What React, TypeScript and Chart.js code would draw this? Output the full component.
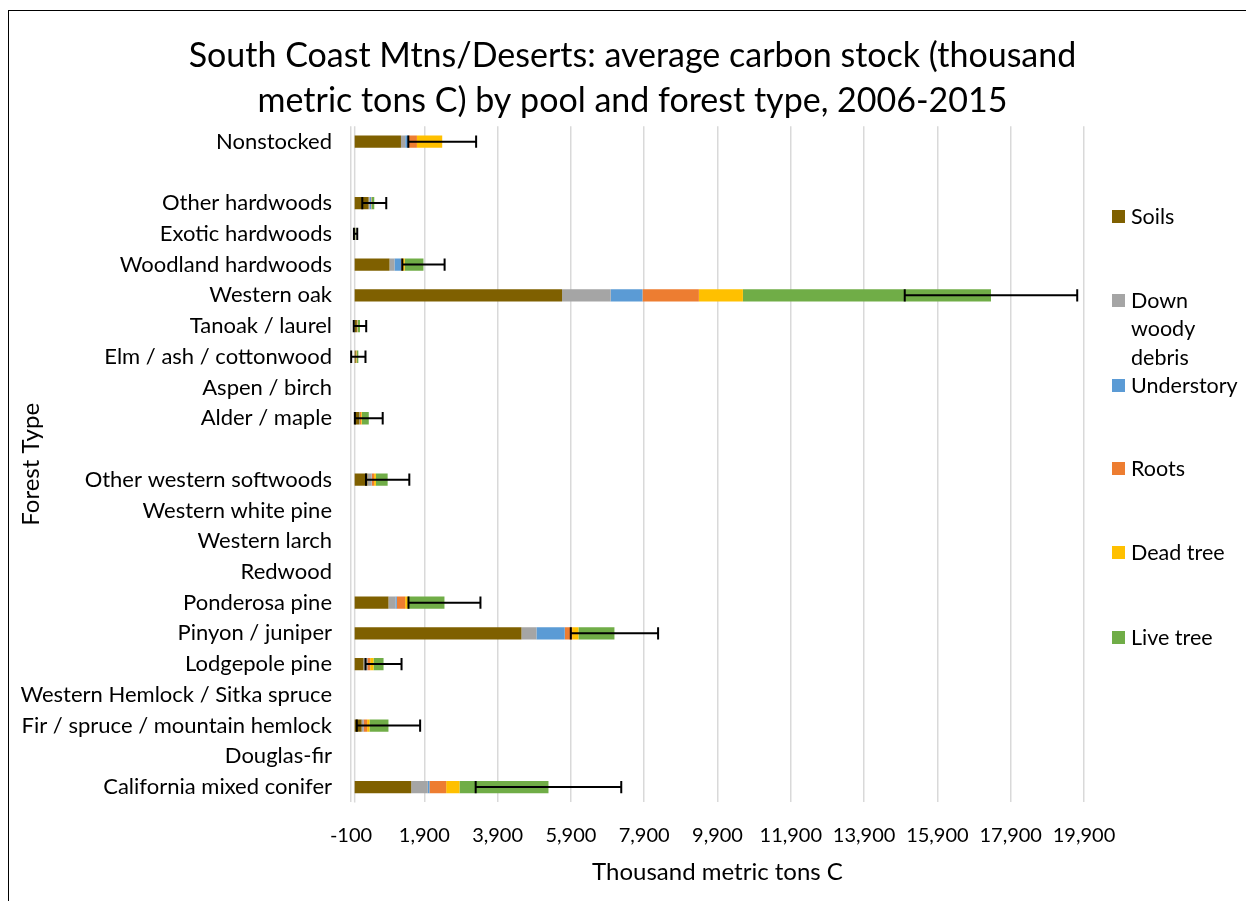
import React, { useEffect, useRef } from "react";
import { Chart, registerables } from "chart.js";
Chart.register(...registerables);

const categories = [
  "Nonstocked", "", "Other hardwoods", "Exotic hardwoods", "Woodland hardwoods", "Western oak",
  "Tanoak / laurel", "Elm / ash / cottonwood", "Aspen / birch", "Alder / maple", "",
  "Other western softwoods", "Western white pine", "Western larch", "Redwood", "Ponderosa pine",
  "Pinyon / juniper", "Lodgepole pine", "Western Hemlock / Sitka spruce",
  "Fir / spruce / mountain hemlock", "Douglas-fir", "California mixed conifer",
];

const soils = [1263, 0, 380, 15, 950, 5659, 60, 30, 0, 130, 0, 350, 0, 0, 0, 922, 4551, 240, 0, 190, 0, 1542];
const downWoodyDebris = [117, 0, 25, 0, 136, 1326, 5, 5, 0, 10, 0, 110, 0, 0, 0, 191, 409, 90, 0, 40, 0, 453];
const understory = [82, 0, 45, 0, 183, 868, 5, 0, 0, 5, 0, 10, 0, 0, 0, 36, 772, 15, 0, 10, 0, 46];
const roots = [237, 0, 10, 0, 27, 1539, 10, 10, 0, 30, 0, 60, 0, 0, 0, 229, 202, 80, 0, 100, 0, 456];
const deadTree = [690, 0, 5, 0, 68, 1201, 10, 10, 0, 20, 0, 50, 0, 0, 0, 71, 172, 90, 0, 65, 0, 363];
const liveTree = [0, 0, 70, 10, 513, 6769, 55, 45, 0, 190, 0, 320, 0, 0, 0, 1001, 982, 273, 0, 517, 0, 2428];
const errorMargins = [925, 0, 327, 45, 577, 2353, 170, 195, 0, 380, 0, 591, 0, 0, 0, 982, 1191, 491, 0, 864, 0, 1986];

const seriesNames = ["Soils", "Down woody debris", "Understory", "Roots", "Dead tree", "Live tree"];
const seriesValues = [soils, downWoodyDebris, understory, roots, deadTree, liveTree];
const seriesColors = ["#7F6000", "#A5A5A5", "#5B9BD5", "#ED7D31", "#FFC000", "#70AD47"];

const xTickValues = [-100, 1900, 3900, 5900, 7900, 9900, 11900, 13900, 15900, 17900, 19900];

const titleLines = [
  "South Coast Mtns/Deserts: average carbon stock (thousand",
  "metric tons C) by pool and forest type, 2006-2015",
];
const xAxisTitle = "Thousand metric tons C";
const yAxisTitle = "Forest Type";

const FONT = "Lato";

const errorBarPlugin = {
  id: "errorBars",
  afterDatasetsDraw(chart: any) {
    const { ctx, scales } = chart;
    const x = scales.x;
    const y = scales.y;
    const meta = chart.getDatasetMeta(0);
    ctx.save();
    ctx.strokeStyle = "#000";
    ctx.lineWidth = 2;
    categories.forEach((_, i) => {
      const err = errorMargins[i];
      if (!err) return;
      const total = seriesValues.reduce((s, arr) => s + arr[i], 0);
      const yc = y.getPixelForValue(i);
      const x1 = x.getPixelForValue(total - err);
      const x2 = x.getPixelForValue(total + err);
      const h = (meta.data[i] && meta.data[i].height ? meta.data[i].height : 12) / 2;
      ctx.beginPath();
      ctx.moveTo(x1, yc);
      ctx.lineTo(x2, yc);
      ctx.moveTo(x1, yc - h);
      ctx.lineTo(x1, yc + h);
      ctx.moveTo(x2, yc - h);
      ctx.lineTo(x2, yc + h);
      ctx.stroke();
    });
    ctx.restore();
  },
};

const zeroLinePlugin = {
  id: "zeroLine",
  beforeDatasetsDraw(chart: any) {
    const { ctx, chartArea, scales } = chart;
    const x0 = scales.x.getPixelForValue(0);
    ctx.save();
    ctx.strokeStyle = "#d9d9d9";
    ctx.lineWidth = 1.5;
    ctx.beginPath();
    ctx.moveTo(x0, chartArea.top);
    ctx.lineTo(x0, chartArea.bottom);
    ctx.stroke();
    ctx.restore();
  },
};

export default function App() {
  const canvasRef = useRef<HTMLCanvasElement | null>(null);

  useEffect(() => {
    const canvas = canvasRef.current;
    if (!canvas) return;
    const chart = new Chart(canvas, {
      type: "bar",
      data: {
        labels: categories,
        datasets: seriesNames.map((name, k) => ({
          label: name,
          data: seriesValues[k],
          backgroundColor: seriesColors[k],
          borderWidth: 0,
          barPercentage: 0.4,
          categoryPercentage: 1,
        })),
      },
      options: {
        indexAxis: "y",
        animation: false,
        responsive: false,
        maintainAspectRatio: false,
        layout: { padding: { left: 19, right: 0, top: 0, bottom: 0 } },
        plugins: {
          legend: { display: false },
          tooltip: { enabled: false },
          title: {
            display: true,
            text: titleLines,
            color: "#000",
            font: { family: FONT, size: 34, weight: "normal", lineHeight: 1.32 },
            padding: { top: 34, bottom: 2.5 },
          },
        },
        scales: {
          x: {
            type: "linear",
            stacked: true,
            min: -100,
            max: 19900,
            afterBuildTicks(scale: any) {
              scale.ticks = xTickValues.map((v) => ({ value: v }));
            },
            afterFit(scale: any) {
              scale.height = 98.6;
            },
            ticks: {
              autoSkip: false,
              maxRotation: 0,
              padding: 21.4,
              color: "#000",
              font: { family: FONT, size: 20, lineHeight: 1.2 },
              callback: (v: any) => Number(v).toLocaleString("en-US"),
            },
            grid: { color: "#d9d9d9", lineWidth: 1.5, drawTicks: false },
            border: { display: false },
            title: {
              display: true,
              text: xAxisTitle,
              color: "#000",
              font: { family: FONT, size: 24, lineHeight: 1 },
              padding: { top: 0, bottom: 17 },
            },
          },
          y: {
            type: "category",
            stacked: true,
            afterFit(scale: any) {
              scale.width = 332;
            },
            ticks: {
              autoSkip: false,
              padding: 19,
              color: "#000",
              font: { family: FONT, size: 22 },
            },
            grid: { display: false, drawTicks: false },
            border: { display: false },
            title: {
              display: true,
              text: yAxisTitle,
              color: "#000",
              font: { family: FONT, size: 24, lineHeight: 1 },
              padding: { top: 0, bottom: 0 },
            },
          },
          yRight: {
            type: "linear",
            position: "right",
            display: true,
            afterFit(scale: any) {
              scale.width = 162;
            },
            grid: { display: false, drawTicks: false },
            ticks: { display: false },
            border: { display: false },
          },
        },
      },
      plugins: [zeroLinePlugin, errorBarPlugin],
    });
    return () => chart.destroy();
  }, []);

  const legendCenters = [216, 300, 385, 468.5, 552.5, 637.5];
  const lh = 28.5;

  return (
    <div style={{ position: "fixed", left: 0, top: 0, width: 1246, height: 901, background: "#fff" }}>
      <canvas ref={canvasRef} width={1246} height={901} style={{ position: "absolute", left: 0, top: 0, width: 1246, height: 901 }} />
      <div style={{ position: "absolute", left: 8, top: 10, width: 1300, height: 1000, borderLeft: "1.5px solid #000", borderTop: "1.5px solid #000", pointerEvents: "none" }} />
      {seriesNames.map((name, k) => (
        <div key={name} style={{ position: "absolute", left: 1112, top: legendCenters[k] - lh / 2, display: "flex", alignItems: "flex-start", fontFamily: FONT, fontSize: 21.5, lineHeight: lh + "px", color: "#000" }}>
          <div style={{ width: 13, height: 13, marginTop: (lh - 13) / 2, background: seriesColors[k], flex: "none" }} />
          <div style={{ marginLeft: 6, width: k === 1 ? 75 : "auto", whiteSpace: k === 1 ? "normal" : "nowrap" }}>{name}</div>
        </div>
      ))}
    </div>
  );
}
